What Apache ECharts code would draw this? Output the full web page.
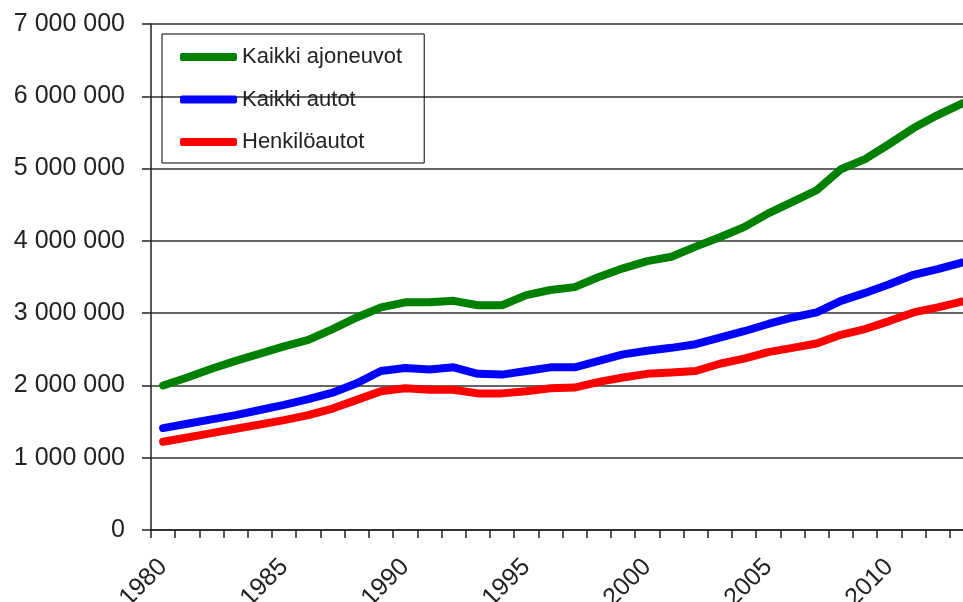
<!DOCTYPE html>
<html>
<head>
<meta charset="utf-8">
<script src="https://cdn.jsdelivr.net/npm/echarts@6/dist/echarts.min.js"></script>
<style>
  html, body { margin: 0; padding: 0; background: #fff; }
  #main { width: 963px; height: 602px; }
</style>
</head>
<body>
<div id="main"></div>
<script>
// years 1980..2013
const years = [];
for (let y = 1980; y <= 2013; y++) years.push(String(y));

const kaikkiAjoneuvot = [
  2.00, 2.11, 2.23, 2.34, 2.44, 2.54, 2.63, 2.78, 2.94, 3.08,
  3.15, 3.15, 3.17, 3.11, 3.11, 3.25, 3.32, 3.36, 3.50, 3.62,
  3.72, 3.78, 3.92, 4.05, 4.19, 4.38, 4.54, 4.70, 4.99, 5.13,
  5.34, 5.56, 5.74, 5.90
];
const kaikkiAutot = [
  1.41, 1.47, 1.53, 1.59, 1.66, 1.73, 1.81, 1.90, 2.03, 2.20,
  2.24, 2.22, 2.25, 2.16, 2.15, 2.20, 2.25, 2.25, 2.34, 2.43,
  2.48, 2.52, 2.57, 2.66, 2.75, 2.85, 2.94, 3.01, 3.17, 3.28,
  3.40, 3.53, 3.61, 3.70
];
const henkiloautot = [
  1.22, 1.28, 1.34, 1.40, 1.46, 1.52, 1.59, 1.68, 1.80, 1.92,
  1.96, 1.94, 1.94, 1.89, 1.89, 1.92, 1.96, 1.97, 2.05, 2.11,
  2.16, 2.18, 2.20, 2.30, 2.37, 2.46, 2.52, 2.58, 2.70, 2.78,
  2.89, 3.01, 3.08, 3.16
];

const toMillions = arr => arr.map(v => Math.round(v * 1000000));

const fmt = v => String(v).replace(/\B(?=(\d{3})+(?!\d))/g, ' ');

const chart = echarts.init(document.getElementById('main'));

const lineSeries = (name, data, color) => ({
  name: name,
  type: 'line',
  data: toMillions(data),
  symbol: 'none',
  lineStyle: { color: color, width: 8, cap: 'round', join: 'round' },
  itemStyle: { color: color },
  animation: false
});

chart.setOption({
  animation: false,
  textStyle: { fontFamily: 'Liberation Sans, Arial, sans-serif' },
  grid: { left: 151, top: 24, right: -11, bottom: 72, containLabel: false, outerBoundsMode: 'none' },
  legend: {
    orient: 'vertical',
    left: 162,
    top: 34,
    padding: [11, 22, 9, 18],
    itemGap: 18.5,
    itemWidth: 57,
    itemHeight: 8,
    icon: 'roundRect',
    borderColor: '#000',
    borderWidth: 1,
    textStyle: { fontSize: 22, color: '#222', lineHeight: 24 },
    data: ['Kaikki ajoneuvot', 'Kaikki autot', 'Henkilöautot']
  },
  xAxis: {
    type: 'category',
    data: years,
    boundaryGap: true,
    axisLine: { lineStyle: { color: '#222', width: 1.5 } },
    axisTick: { show: true, interval: 0, length: 8, lineStyle: { color: '#222', width: 1.5 } },
    axisLabel: {
      interval: 4,
      rotate: 45,
      margin: 33,
      fontSize: 25,
      color: '#222'
    }
  },
  yAxis: {
    type: 'value',
    min: 0,
    max: 7000000,
    interval: 1000000,
    axisLine: { show: true, lineStyle: { color: '#222', width: 1.5 } },
    axisTick: { show: true, length: 9, lineStyle: { color: '#222', width: 1.5 } },
    splitLine: { lineStyle: { color: '#333', width: 1.5 } },
    axisLabel: { formatter: fmt, fontSize: 25, color: '#222', margin: 26 }
  },
  series: [
    lineSeries('Kaikki ajoneuvot', kaikkiAjoneuvot, '#008000'),
    lineSeries('Kaikki autot', kaikkiAutot, '#0000ff'),
    lineSeries('Henkilöautot', henkiloautot, '#ff0000')
  ]
});
</script>
</body>
</html>
